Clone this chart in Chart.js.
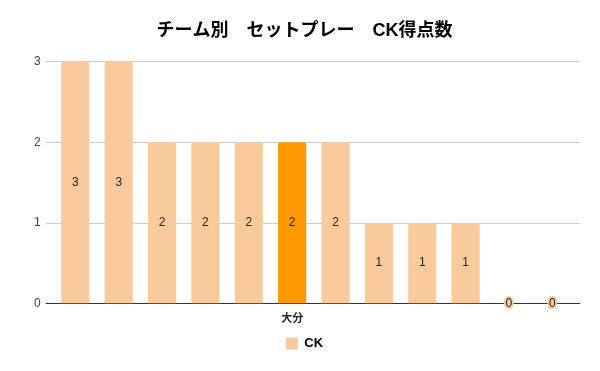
<!DOCTYPE html>
<html>
<head>
<meta charset="utf-8">
<script src="https://cdn.jsdelivr.net/npm/chart.js@4"></script>
<style>
  html,body{margin:0;padding:0;background:#fff;}
  #wrap{width:600px;height:371px;}
</style>
</head>
<body>
<div id="wrap"><canvas id="ckChart" width="600" height="371"></canvas></div>
<script>
// data
const teams=['','','','','','大分','','','','','',''];
const ckGoals=[3,3,2,2,2,2,2,1,1,1,0,0];
const highlightTeam='大分';
const yTicks=[0,1,2,3];

const baseColor='#f9cb9c';
const hiColor='#ff9900';
const barColors=teams.map(t=>t===highlightTeam ? hiColor : baseColor);

const font="Arial, 'Liberation Sans', 'Noto Sans CJK JP', sans-serif";

// value labels in the middle of the bars
const valueLabels={
  id:'valueLabels',
  afterDatasetsDraw(chart){
    const ctx=chart.ctx;
    const meta=chart.getDatasetMeta(0);
    ctx.save();
    ctx.font='12px '+font;
    ctx.textAlign='center';
    ctx.textBaseline='middle';
    meta.data.forEach((bar,i)=>{
      const v=ckGoals[i];
      const y=v===0 ? bar.base : (bar.y+bar.base)/2;
      if(v===0){
        ctx.lineWidth=4;
        ctx.lineJoin='round';
        ctx.strokeStyle=baseColor;
        ctx.strokeText(String(v),bar.x,y);
      }
      ctx.fillStyle='#222';
      ctx.fillText(String(v),bar.x,y);
    });
    ctx.restore();
  }
};

const ctx=document.getElementById('ckChart').getContext('2d');
new Chart(ctx,{
  type:'bar',
  data:{
    labels:teams,
    datasets:[{
      label:'CK',
      data:ckGoals,
      backgroundColor:barColors,
      borderRadius:2,
      borderSkipped:'bottom',
      categoryPercentage:1,
      barPercentage:0.65
    }]
  },
  options:{
    responsive:false,
    animation:false,
    layout:{padding:{left:29,right:20,top:0,bottom:11}},
    plugins:{
      title:{
        display:true,
        text:'チーム別　セットプレー　CK得点数',
        color:'#000',
        font:{family:font,size:18,weight:'bold'},
        padding:{top:20,bottom:20}
      },
      legend:{
        position:'bottom',
        labels:{
          boxWidth:12,
          boxHeight:12,
          color:'#222',
          padding:10,
          font:{family:font,size:13,weight:'bold'},
          generateLabels:()=>[{text:'CK',fillStyle:baseColor,strokeStyle:baseColor,lineWidth:0}]
        }
      },
      tooltip:{enabled:false}
    },
    scales:{
      x:{
        grid:{display:false},
        border:{display:false},
        ticks:{
          autoSkip:false,
          maxRotation:0,
          color:'#222',
          padding:1,
          font:{family:font,size:11,weight:'bold'}
        }
      },
      y:{
        min:0,
        max:3,
        afterBuildTicks:axis=>{axis.ticks=yTicks.map(v=>({value:v}));},
        grid:{
          color:c=>c.tick && c.tick.value===0 ? '#333' : '#cccccc',
          tickColor:c=>c.tick && c.tick.value===0 ? '#333' : '#cccccc',
          tickLength:8,
          lineWidth:1
        },
        border:{display:false},
        ticks:{
          color:'#444',
          padding:5,
          font:{family:font,size:12}
        }
      },
      yRight:{
        position:'right',
        min:0,
        max:3,
        afterBuildTicks:axis=>{axis.ticks=yTicks.map(v=>({value:v}));},
        grid:{
          drawOnChartArea:false,
          tickColor:c=>c.tick && c.tick.value===0 ? '#333' : '#cccccc',
          tickLength:6
        },
        border:{display:false},
        ticks:{display:false}
      }
    }
  },
  plugins:[valueLabels]
});
</script>
</body>
</html>
